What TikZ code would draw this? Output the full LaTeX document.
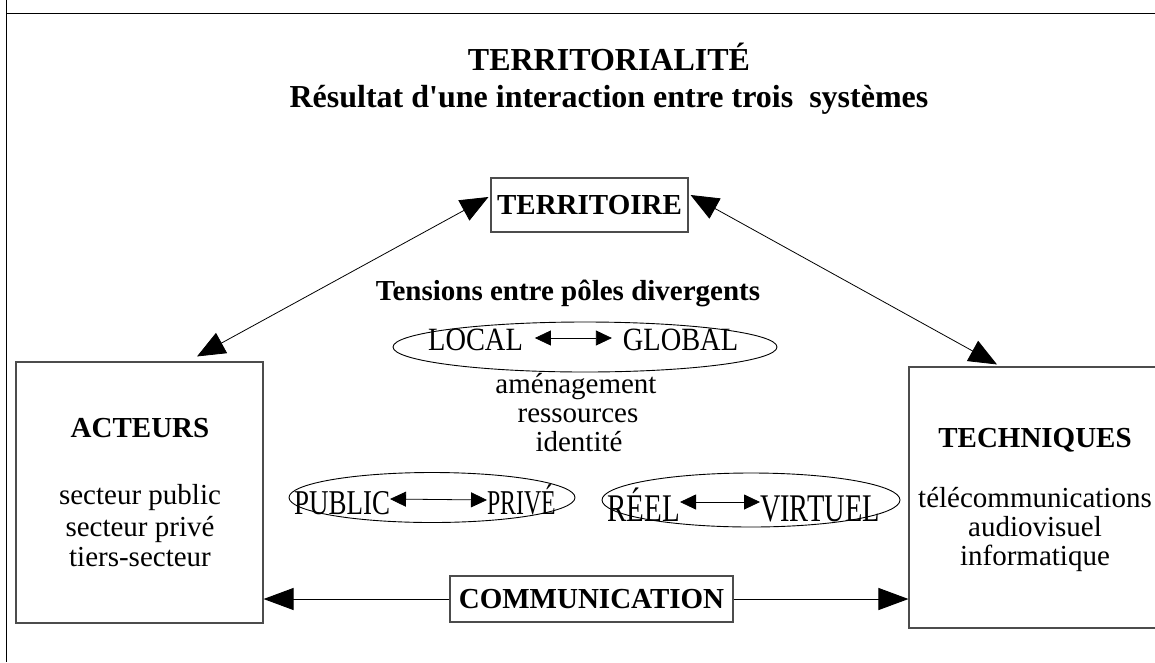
\documentclass[tikz,border=0pt]{standalone}
\usepackage{fontspec}
\setmainfont{Liberation Serif}[Ligatures=TeXOff]
\usetikzlibrary{arrows.meta,shapes.geometric}
\begin{document}
\begin{tikzpicture}[x=1pt,y=-1pt,
  box/.style={draw=black!70,line width=1.1pt,inner sep=0pt},
  oval/.style={draw=black,line width=0.9pt,ellipse,inner sep=0pt},
  txt/.style={inner sep=0pt,outer sep=0pt,font=\fontsize{29}{30}\selectfont},
  btxt/.style={inner sep=0pt,outer sep=0pt,font=\fontsize{29}{30}\selectfont\bfseries},
  ttl/.style={inner sep=0pt,outer sep=0pt,font=\fontsize{32}{34}\selectfont\bfseries},
  etxt/.style={txt,text depth=0pt},
  bigarr/.style={line width=0.8pt,{Triangle[length=28pt,width=23pt]}-{Triangle[length=28pt,width=23pt]}},
  smallarr/.style={line width=0.8pt,{Triangle[length=16pt,width=15pt]}-{Triangle[length=16pt,width=15pt]}},
  commarr/.style={line width=1pt,-{Triangle[length=30pt,width=22pt]}}
]
\clip (0,0) rectangle (1155,662);
\fill[white] (0,0) rectangle (1155,662);
% frame lines
\draw[line width=1pt] (6,0) -- (6,662);
\draw[line width=1pt] (6,13) -- (1155,13);

% titles
\node[ttl,anchor=base] (t1) at (609,70) {TERRITORIALITÉ};
\node[ttl,anchor=base] (t2) at (609,107) {Résultat d'une interaction entre trois\ \ systèmes};

% main boxes
\node[box,minimum width=197pt,minimum height=54pt,font=\fontsize{29}{30}\selectfont\bfseries] (terr) at (589.5,205) {TERRITOIRE};
\node[box,minimum width=247pt,minimum height=261pt] (act) at (139.5,492.5) {};
\node[box,minimum width=256pt,minimum height=261pt] (tech) at (1037,497.5) {};
\node[box,minimum width=283pt,minimum height=46pt,font=\fontsize{29}{30}\selectfont\bfseries] (comm) at (591.5,599) {COMMUNICATION};

% box texts
\node[btxt,anchor=base] (actT) at (140,437) {ACTEURS};
\node[txt,anchor=base] (act1) at (140,504) {secteur public};
\node[txt,anchor=base] (act2) at (140,536) {secteur privé};
\node[txt,anchor=base] (act3) at (140,566) {tiers-secteur};
\node[btxt,anchor=base] (techT) at (1035,447) {TECHNIQUES};
\node[txt,anchor=base] (tech1) at (1035,507) {télécommunications};
\node[txt,anchor=base] (tech2) at (1035,536) {audiovisuel};
\node[txt,anchor=base] (tech3) at (1035,565) {informatique};

% tensions
\node[btxt,anchor=base] (tens) at (568,300) {Tensions entre pôles divergents};
\node[oval,minimum width=384pt,minimum height=50pt] (ovLoc) at (585,347) {};
\node[etxt,text height=24pt,anchor=base,outer xsep=12pt] (loc) at (475.5,350) {\scalebox{0.98}[1.12]{LOCAL}};
\node[etxt,text height=24pt,anchor=base,outer xsep=11pt] (glob) at (680.5,350) {\scalebox{0.98}[1.12]{GLOBAL}};
\draw[smallarr] (loc.east) -- (glob.west);

\node[txt,anchor=base] (am1) at (576,393) {aménagement};
\node[txt,anchor=base] (am2) at (578,422) {ressources};
\node[txt,anchor=base] (am3) at (579,451) {identité};

\node[oval,minimum width=286pt,minimum height=50pt] (ovPub) at (432,497.5) {};
\node[etxt,text height=30pt,anchor=base east] (pub) at (390,514) {\scalebox{0.93}[1.2]{PUBLIC}};
\node[etxt,text height=28pt,anchor=base west] (priv) at (487,514) {\scalebox{0.82}[1.2]{PRIVÉ}};
\draw[smallarr] (pub.east) -- (priv.west);

\node[oval,minimum width=298pt,minimum height=54pt] (ovReel) at (751,500) {};
\node[etxt,text height=38pt,anchor=base east] (reel) at (680,521) {\scalebox{1.0}[1.35]{RÉEL}};
\node[etxt,text height=38pt,anchor=base west] (virt) at (760,521) {\scalebox{0.98}[1.35]{VIRTUEL}};
\draw[smallarr] (reel.east) -- (virt.west);

% connectors
\draw[bigarr] ([shift={(57.5,-5)}]act.north) -- ([shift={(-2,-8)}]terr.west);
\draw[bigarr] ([shift={(2,-10)}]terr.east) -- ([shift={(-40,-2)}]tech.north);
\draw[commarr] (comm.west) -- (comm.west -| act.east);
\draw[commarr] (comm.east) -- (comm.east -| tech.west);
\end{tikzpicture}
\end{document}
